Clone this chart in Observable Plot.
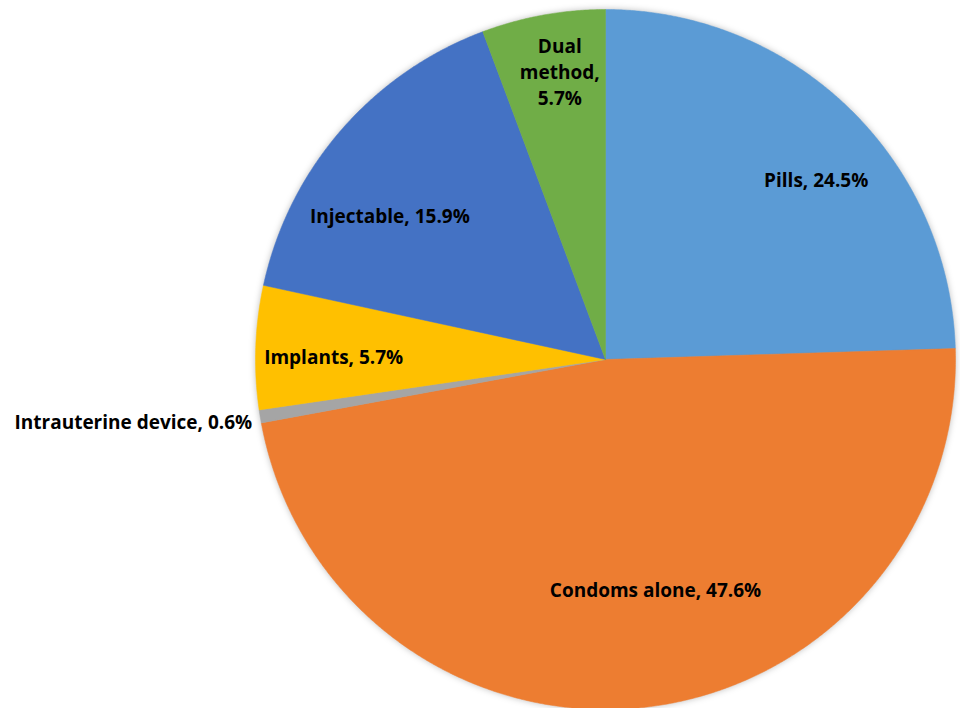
<!DOCTYPE html>
<html>
<head>
<meta charset="utf-8">
<script src="https://cdn.jsdelivr.net/npm/d3@7"></script>
<script src="https://cdn.jsdelivr.net/npm/@observablehq/plot@0.6"></script>
<style>
  html, body { margin: 0; padding: 0; background: #fff; }
  #chart svg { display: block; }
</style>
</head>
<body>
<div id="chart"></div>
<script>
const categories = ["Pills", "Condoms alone", "Intrauterine device", "Implants", "Injectable", "Dual method"];
const shares = [24.5, 47.6, 0.6, 5.7, 15.9, 5.7];
const colors = ["#5B9BD5", "#ED7D31", "#A5A5A5", "#FFC000", "#4472C4", "#70AD47"];
const labelTexts = ["Pills, 24.5%", "Condoms alone, 47.6%", "Intrauterine device, 0.6%", "Implants, 5.7%", "Injectable, 15.9%", "Dual\nmethod,\n5.7%"];

const pie = d3.pie().sort(null).value(d => d)(shares);

// Polygon points for each slice (unit circle, angle clockwise from 12 o'clock)
const polyPts = [];
pie.forEach((p, i) => {
  const a0 = p.startAngle, a1 = p.endAngle;
  const n = Math.max(2, Math.ceil((a1 - a0) / 0.005));
  polyPts.push({cat: categories[i], x: 0, y: 0});
  for (let k = 0; k <= n; k++) {
    const a = a0 + (a1 - a0) * k / n;
    polyPts.push({cat: categories[i], x: Math.sin(a), y: Math.cos(a)});
  }
  polyPts.push({cat: categories[i], x: 0, y: 0});
});

// Label placement rules (radius factor and nudges), applied to mid-angles
const labelRule = {
  "Pills": {r: 0.75, dx: 28, dy: 8, anchor: "middle"},
  "Condoms alone": {r: 0.67, dx: 25, dy: -4, anchor: "middle"},
  "Intrauterine device": {r: 1.0, dx: -8, dy: 4, anchor: "end"},
  "Implants": {r: 0.78, dx: 1, dy: 6, anchor: "middle"},
  "Injectable": {r: 0.72, dx: -25, dy: 20, anchor: "middle"},
  "Dual method": {r: 0.83, dx: 6, dy: -3, anchor: "middle"}
};
const labels = pie.map((p, i) => {
  const mid = (p.startAngle + p.endAngle) / 2;
  const rule = labelRule[categories[i]];
  return {cat: categories[i], text: labelTexts[i], x: rule.r * Math.sin(mid), y: rule.r * Math.cos(mid), ...rule};
});

const chart = Plot.plot({
  width: 960,
  height: 708,
  margin: 0,
  style: {fontFamily: "'Open Sans', sans-serif", background: "#fff", overflow: "visible"},
  x: {type: "linear", domain: [-1, 1], range: [255, 955], axis: null},
  y: {type: "linear", domain: [-1, 1], range: [709, 9], axis: null},
  color: {type: "ordinal", domain: categories, range: colors},
  marks: [
    Plot.line(polyPts, {x: "x", y: "y", z: "cat", fill: "cat", stroke: "cat", strokeWidth: 0.5, curve: "linear"}),
    ...labels.map(l => Plot.text([l], {
      x: "x", y: "y", text: "text", textAnchor: l.anchor,
      dx: l.dx, dy: l.dy,
      fontSize: 19, fontWeight: "bold", fill: "#000", lineHeight: 1.38,
      fontFamily: "'Open Sans', sans-serif"
    }))
  ]
});
document.getElementById("chart").appendChild(chart);
d3.select(chart).selectAll("g[aria-label='line']").style("filter", "drop-shadow(0px 0px 3px rgba(0,0,0,0.25))");
</script>
</body>
</html>
